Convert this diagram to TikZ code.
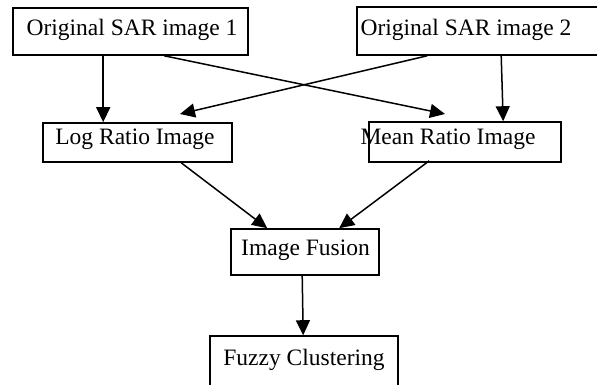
\documentclass[tikz,border=0pt]{standalone}
\usepackage{fontspec}
\setmainfont{Liberation Serif}
\usetikzlibrary{arrows.meta,calc}
\tikzset{
  box/.style={draw=black, line width=1.6pt, rectangle, inner sep=0pt},
  lbl/.style={anchor=base, inner sep=0pt, font=\fontsize{23.5}{26}\selectfont},
  conn/.style={line width=1.5pt, -{Triangle[length=15pt,width=14pt]}}
}
\begin{document}
\begin{tikzpicture}[x=1pt,y=-1pt]
\clip (0,0) rectangle (597,385);
% boxes
\node[box, minimum width=235pt, minimum height=47pt] (b1) at (130.5,31.5) {};
\node[box, minimum width=250pt, minimum height=48pt] (b2) at (482,31) {};
\node[box, minimum width=189pt, minimum height=39pt] (b3) at (137.5,142.5) {};
\node[box, minimum width=192pt, minimum height=40pt] (b4) at (465,142) {};
\node[box, minimum width=148pt, minimum height=46pt] (b5) at (305,252) {};
\node[box, minimum width=188pt, minimum height=60pt] (b6) at (304,366) {};
% labels
\node[lbl] (t1) at (132,36) {Original SAR image 1};
\node[lbl] (t2) at (466,36) {Original SAR image 2};
\node[lbl] (t3) at (135,145) {Log Ratio Image};
\node[lbl] (t4) at (448,145) {Mean Ratio Image};
\node[lbl] (t5) at (305.5,255) {Image Fusion};
\node[lbl] (t6) at (304,365) {Fuzzy Clustering};
% connector ends
\coordinate (s1a) at ($(b1.south west)+(91,0)$);
\coordinate (s1b) at ($(b1.south west)+(152,0)$);
\coordinate (s2a) at ($(b2.south west)+(71,0)$);
\coordinate (s2b) at ($(b2.south west)+(145,0)$);
\coordinate (e3a) at ($(b3.north west)+(61,0)$);
\coordinate (e3b) at (180,114);
\coordinate (e4a) at (445,114);
\coordinate (e4b) at ($(b4.north west)+(135,0)$);
\coordinate (s3) at ($(b3.south west)+(139,0)$);
\coordinate (s4) at ($(b4.south west)+(61,-2)$);
\coordinate (e5a) at ($(b5.north west)+(37,0)$);
\coordinate (e5b) at ($(b5.north west)+(109,0)$);
\coordinate (s5) at ($(b5.south west)+(72,0)$);
\coordinate (e6) at ($(b6.north west)+(94,0)$);
% connectors
\draw[conn] (s1a) -- (e3a);
\draw[conn] (s1b) -- (e4a);
\draw[conn] (s2a) -- (e3b);
\draw[conn] (s2b) -- (e4b);
\draw[conn] (s3) -- (e5a);
\draw[conn] (s4) -- (e5b);
\draw[conn] (s5) -- (e6);
\end{tikzpicture}
\end{document}
